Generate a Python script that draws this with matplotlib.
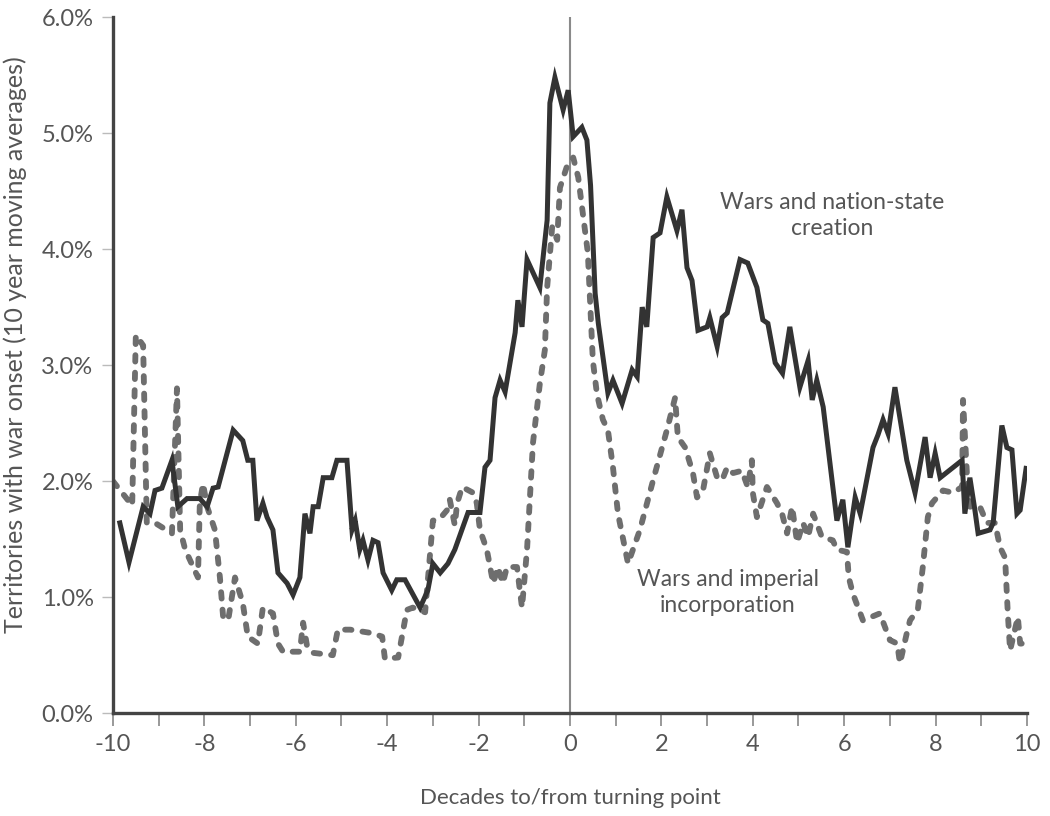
import numpy as np
import matplotlib
matplotlib.use('Agg')
import matplotlib.pyplot as plt
from matplotlib.ticker import FuncFormatter

plt.rcParams['font.family'] = ['Lato', 'DejaVu Sans']

# Wars and nation-state creation (solid)
nation_x = [-9.85, -9.65, -9.34, -9.19, -9.08, -8.93, -8.71, -8.58, -8.38, -8.10,
            -7.94, -7.81, -7.70, -7.37, -7.16, -7.05, -6.94, -6.85, -6.72, -6.63,
            -6.50, -6.39, -6.19, -6.06, -5.91, -5.80, -5.69, -5.62, -5.51, -5.40,
            -5.21, -5.10, -4.88, -4.77, -4.70, -4.60, -4.53, -4.42, -4.31, -4.20,
            -4.09, -3.90, -3.79, -3.61, -3.28, -3.11, -3.00, -2.84, -2.67, -2.52,
            -2.23, -1.97, -1.86, -1.75, -1.64, -1.53, -1.42, -1.20, -1.14, -1.05,
            -0.94, -0.66, -0.50, -0.44, -0.33, -0.15, -0.04, 0.07, 0.26, 0.37,
            0.45, 0.55, 0.62, 0.83, 0.94, 1.14, 1.36, 1.47, 1.58, 1.68,
            1.82, 1.97, 2.12, 2.34, 2.45, 2.56, 2.67, 2.80, 3.00, 3.06,
            3.22, 3.33, 3.44, 3.72, 3.89, 4.09, 4.22, 4.33, 4.49, 4.65,
            4.81, 5.03, 5.21, 5.30, 5.40, 5.54, 5.84, 5.97, 6.08, 6.24,
            6.35, 6.63, 6.74, 6.85, 6.96, 7.11, 7.37, 7.55, 7.77, 7.88,
            7.99, 8.10, 8.58, 8.64, 8.75, 8.86, 8.93, 9.19, 9.26, 9.45,
            9.56, 9.67, 9.78, 9.85, 9.98]
nation_y = [1.64, 1.30, 1.78, 1.72, 1.92, 1.94, 2.18, 1.78, 1.85, 1.85,
            1.78, 1.94, 1.95, 2.44, 2.35, 2.18, 2.18, 1.66, 1.81, 1.69,
            1.58, 1.21, 1.12, 1.02, 1.17, 1.72, 1.55, 1.78, 1.78, 2.03,
            2.03, 2.18, 2.18, 1.58, 1.66, 1.41, 1.49, 1.32, 1.49, 1.47,
            1.21, 1.06, 1.15, 1.15, 0.91, 1.06, 1.29, 1.21, 1.29, 1.41,
            1.73, 1.73, 2.12, 2.18, 2.72, 2.87, 2.77, 3.28, 3.56, 3.33,
            3.91, 3.67, 4.25, 5.26, 5.48, 5.20, 5.37, 4.97, 5.05, 4.94,
            4.55, 3.62, 3.36, 2.76, 2.87, 2.67, 2.96, 2.90, 3.50, 3.33,
            4.10, 4.14, 4.45, 4.16, 4.34, 3.84, 3.73, 3.30, 3.33, 3.41,
            3.16, 3.41, 3.45, 3.91, 3.88, 3.67, 3.39, 3.36, 3.02, 2.93,
            3.33, 2.81, 3.04, 2.70, 2.87, 2.64, 1.66, 1.84, 1.43, 1.86,
            1.72, 2.29, 2.40, 2.53, 2.41, 2.81, 2.18, 1.90, 2.38, 2.03,
            2.24, 2.03, 2.18, 1.72, 2.03, 1.75, 1.55, 1.58, 1.64, 2.48,
            2.29, 2.27, 1.72, 1.75, 2.11]

# Wars and imperial incorporation (dashed)
imperial_x = [-10.0, -9.80, -9.58, -9.50, -9.34, -9.26, -9.08, -8.71, -8.60, -8.53,
              -8.42, -8.14, -8.10, -8.03, -7.94, -7.77, -7.66, -7.59, -7.48, -7.33,
              -7.16, -7.05, -6.83, -6.72, -6.50, -6.39, -6.28, -5.91, -5.84, -5.75,
              -5.62, -5.19, -5.08, -4.81, -4.33, -4.11, -4.05, -3.76, -3.57, -3.44,
              -3.17, -3.11, -3.00, -2.84, -2.69, -2.63, -2.52, -2.47, -2.36, -2.12,
              -2.04, -1.97, -1.82, -1.68, -1.58, -1.47, -1.38, -1.16, -1.05, -0.94,
              -0.81, -0.66, -0.55, -0.50, -0.39, -0.28, -0.22, -0.07, 0.07, 0.18,
              0.28, 0.39, 0.50, 0.59, 0.72, 0.83, 0.94, 1.05, 1.27, 1.53,
              1.82, 2.12, 2.30, 2.36, 2.52, 2.69, 2.78, 2.91, 3.06, 3.22,
              3.33, 3.44, 3.57, 3.76, 3.89, 3.98, 4.00, 4.09, 4.31, 4.53,
              4.64, 4.75, 4.86, 4.97, 5.10, 5.21, 5.32, 5.51, 5.75, 5.84,
              6.06, 6.10, 6.19, 6.41, 6.78, 7.00, 7.16, 7.22, 7.37, 7.44,
              7.61, 7.72, 7.83, 7.92, 8.16, 8.38, 8.58, 8.60, 8.69, 8.75,
              8.97, 9.12, 9.30, 9.41, 9.52, 9.58, 9.63, 9.80, 9.85, 9.91]
imperial_y = [2.00, 1.90, 1.79, 3.26, 3.17, 1.64, 1.64, 1.55, 2.80, 1.58,
              1.41, 1.17, 1.81, 1.98, 1.78, 1.58, 1.17, 0.83, 0.80, 1.17,
              0.95, 0.66, 0.60, 0.91, 0.86, 0.60, 0.53, 0.53, 0.78, 0.57,
              0.52, 0.50, 0.72, 0.72, 0.69, 0.66, 0.47, 0.48, 0.89, 0.91,
              0.87, 1.15, 1.66, 1.68, 1.75, 1.84, 1.62, 1.81, 1.95, 1.90,
              1.81, 1.58, 1.41, 1.12, 1.26, 1.12, 1.26, 1.26, 0.91, 1.41,
              2.33, 2.84, 3.13, 3.67, 4.19, 4.08, 4.53, 4.71, 4.79, 4.62,
              4.31, 3.97, 3.04, 2.75, 2.53, 2.44, 2.12, 1.72, 1.29, 1.58,
              2.01, 2.44, 2.72, 2.38, 2.29, 2.07, 1.86, 1.92, 2.24, 2.03,
              2.01, 2.12, 2.07, 2.09, 1.95, 2.18, 1.90, 1.69, 1.95, 1.81,
              1.72, 1.55, 1.78, 1.47, 1.64, 1.52, 1.72, 1.52, 1.49, 1.41,
              1.39, 1.17, 1.03, 0.80, 0.86, 0.63, 0.60, 0.43, 0.69, 0.80,
              0.89, 1.26, 1.69, 1.81, 1.92, 1.90, 1.95, 2.70, 2.03, 1.78,
              1.78, 1.64, 1.64, 1.43, 1.34, 0.86, 0.54, 0.83, 0.60, 0.60]

text_col = '#555555'

fig = plt.figure(figsize=(10.5, 8.16), dpi=100)
ax = fig.add_axes([0.1076, 0.126, 0.8705, 0.853])

ax.axvline(0, color='#8a8a8a', lw=1.5, zorder=1)
ax.plot(imperial_x, imperial_y, color='#6e6e6e', lw=4.2,
        linestyle=(0, (1.1, 1.9)), dash_capstyle='round', zorder=2)
ax.plot(nation_x, nation_y, color='#333333', lw=3.6,
        solid_joinstyle='miter', zorder=3)

ax.set_xlim(-10, 10)
ax.set_ylim(0, 6)
ax.set_xticks(np.arange(-10, 11, 1))
ax.set_xticklabels([str(v) if v % 2 == 0 else '' for v in range(-10, 11)])
ax.set_yticks(np.arange(0, 6.1, 1))
ax.yaxis.set_major_formatter(FuncFormatter(lambda v, p: '%.1f%%' % v))

for side in ['top', 'right']:
    ax.spines[side].set_visible(False)
for side in ['left', 'bottom']:
    ax.spines[side].set_color('#444444')
    ax.spines[side].set_linewidth(2.4)

ax.tick_params(axis='x', direction='out', length=9, width=1.4, color='#999999',
               labelsize=17, labelcolor=text_col, pad=6)
ax.tick_params(axis='y', direction='out', length=8, width=1.0, color='#bbbbbb',
               labelsize=17, labelcolor=text_col, pad=6)

ax.set_xlabel('Decades to/from turning point', fontsize=16, color=text_col)
ax.xaxis.set_label_coords(0.5, -0.108)
ax.set_ylabel('Territories with war onset (10 year moving averages)', fontsize=18,
              color=text_col)
ax.yaxis.set_label_coords(-0.094, 0.529)

ax.text(5.73, 4.29, 'Wars and nation-state\ncreation', fontsize=16.5, color=text_col,
        ha='center', va='center', linespacing=1.3)
ax.text(3.46, 1.04, 'Wars and imperial\nincorporation', fontsize=16.5, color=text_col,
        ha='center', va='center', linespacing=1.3)

fig.savefig('out.png', dpi=100, facecolor='white')
